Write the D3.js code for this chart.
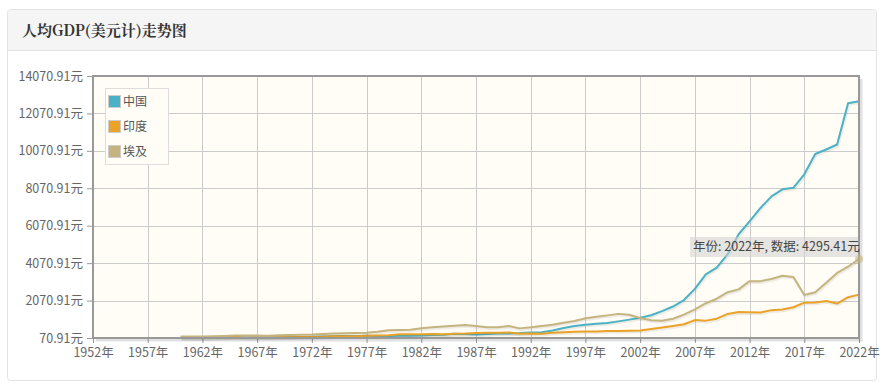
<!DOCTYPE html>
<html>
<head>
<meta charset="utf-8">
<script src="https://cdn.jsdelivr.net/npm/d3@7"></script>
<style>
  body { margin: 0; background: #fff; }
  svg { display: block; font-family: "Noto Sans CJK SC", "Noto Sans", sans-serif; }
</style>
</head>
<body>
<svg id="chart"></svg>
<script>
// data, per capita GDP (USD), 1960-2022
const years = d3.range(1960, 2023);
const seriesNames = ['中国', '印度', '埃及'];
const colors = ['#4bb2c5', '#eaa228', '#c5b47f'];

const china = [89, 76, 71, 74, 85, 98, 104, 97, 92, 100,
  113, 119, 132, 157, 160, 178, 165, 185, 156, 184,
  195, 197, 203, 225, 251, 294, 282, 252, 283, 311,
  318, 333, 366, 377, 473, 610, 709, 782, 829, 873,
  959, 1053, 1149, 1289, 1509, 1753, 2099, 2694, 3468, 3832,
  4550, 5614, 6301, 7020, 7636, 8016, 8094, 8817, 9905, 10144,
  10409, 12618, 12720];
const india = [82, 85, 90, 101, 116, 119, 90, 96, 99, 108,
  112, 119, 123, 144, 164, 158, 161, 186, 206, 224,
  265, 271, 274, 291, 277, 296, 311, 340, 354, 346,
  369, 303, 317, 301, 346, 374, 400, 416, 413, 442,
  443, 452, 470, 547, 628, 715, 807, 1028, 999, 1102,
  1358, 1458, 1444, 1438, 1560, 1590, 1714, 1958, 1974, 2050,
  1913, 2250, 2389];
const egypt = [152, 157, 152, 165, 184, 204, 205, 201, 196, 214,
  230, 241, 258, 290, 310, 330, 340, 350, 400, 480,
  500, 510, 590, 640, 680, 720, 760, 712, 640, 640,
  712, 585, 640, 712, 780, 880, 980, 1123, 1210, 1280,
  1360, 1310, 1140, 1020, 990, 1100, 1320, 1600, 1930, 2170,
  2520, 2670, 3110, 3110, 3220, 3400, 3330, 2370, 2520, 3020,
  3550, 3880, 4295.41];

const xTicks = d3.range(1952, 2023, 5);
const yTicks = d3.range(0, 8).map(i => 70.91 + i * 2000);

const W = 889, H = 388;
const plot = { left: 93, right: 859, top: 76, bottom: 338 };

const svg = d3.select('#chart').attr('width', W).attr('height', H);

// card + header
svg.append('rect')
   .attr('x', 7.5).attr('y', 9.5).attr('width', 869).attr('height', 371)
   .attr('rx', 3)
   .attr('fill', '#fff').attr('stroke', '#e3e3e3');
svg.append('path')
   .attr('d', 'M8,50.5 H876 V12.5 Q876,10 873,10 H11 Q8,10 8,12.5 Z')
   .attr('fill', '#f5f5f5');
svg.append('line')
   .attr('x1', 8).attr('x2', 876).attr('y1', 50.5).attr('y2', 50.5)
   .attr('stroke', '#e3e3e3');
svg.append('text')
   .attr('x', 22).attr('y', 36)
   .style('font-size', '15px').style('font-weight', 'bold')
   .style('font-family', '"Noto Serif CJK SC", "Noto Sans CJK SC", serif')
   .style('fill', '#333')
   .text('人均GDP(美元计)走势图');

const x = d3.scaleLinear().domain([1952, 2022]).range([plot.left, plot.right]);
const y = d3.scaleLinear().domain([70.91, 14070.91]).range([plot.bottom, plot.top]);

// plot background
svg.append('rect')
   .attr('x', plot.left).attr('y', plot.top)
   .attr('width', plot.right - plot.left).attr('height', plot.bottom - plot.top)
   .attr('fill', '#fffdf6');

// grid
svg.append('g')
   .selectAll('line.gx').data(xTicks).enter().append('line')
   .attr('x1', d => Math.round(x(d)) + 0.5).attr('x2', d => Math.round(x(d)) + 0.5)
   .attr('y1', plot.top).attr('y2', plot.bottom)
   .attr('stroke', '#cccccc');
svg.append('g')
   .selectAll('line.gy').data(yTicks).enter().append('line')
   .attr('x1', plot.left).attr('x2', plot.right)
   .attr('y1', d => Math.round(y(d)) + 0.5).attr('y2', d => Math.round(y(d)) + 0.5)
   .attr('stroke', '#cccccc');

// axes
const yAxis = svg.append('g')
   .attr('transform', `translate(${plot.left},0)`)
   .call(d3.axisLeft(y).tickValues(yTicks).tickSize(6).tickPadding(4)
       .tickFormat(d => d.toFixed(2) + '元'));
const xAxis = svg.append('g')
   .attr('transform', `translate(0,${plot.bottom})`)
   .call(d3.axisBottom(x).tickValues(xTicks).tickSize(5).tickPadding(5)
       .tickFormat(d => d + '年'));
[yAxis, xAxis].forEach(a => {
  a.select('.domain').remove();
  a.selectAll('line').attr('stroke', '#999');
  a.selectAll('text').style('font-size', '12.5px').style('fill', '#666')
   .style('font-family', '"Noto Sans CJK SC", sans-serif');
});

// series lines
const seriesData = [china, india, egypt];
const line = d3.line().x((d, i) => x(years[i])).y(d => y(d));
seriesData.forEach((vals, k) => {
  // jqplot-ish shadow
  svg.append('path')
     .datum(vals)
     .attr('fill', 'none')
     .attr('stroke', 'rgba(0,0,0,0.07)')
     .attr('stroke-width', 2.5)
     .attr('transform', 'translate(1,1.5)')
     .attr('d', line);
  svg.append('path')
     .datum(vals)
     .attr('fill', 'none')
     .attr('stroke', colors[k])
     .attr('stroke-width', 2)
     .attr('stroke-linejoin', 'round')
     .attr('d', line);
});

// plot border with shadow
svg.append('path')
   .attr('d', `M${plot.right + 2},${plot.top + 3} V${plot.bottom + 2} H${plot.left + 3}`)
   .attr('fill', 'none').attr('stroke', 'rgba(0,0,0,0.12)').attr('stroke-width', 3);
svg.append('rect')
   .attr('x', plot.left).attr('y', plot.top)
   .attr('width', plot.right - plot.left).attr('height', plot.bottom - plot.top)
   .attr('fill', 'none').attr('stroke', '#999').attr('stroke-width', 2);

// legend
const legend = svg.append('g').attr('transform', 'translate(105,88)');
legend.append('rect')
   .attr('x', 0.5).attr('y', 0.5).attr('width', 63).attr('height', 76)
   .attr('fill', '#fffdf6').attr('stroke', '#ddd');
seriesNames.forEach((name, k) => {
  const g = legend.append('g').attr('transform', `translate(3,${7 + k * 25})`);
  g.append('rect').attr('x', 0.5).attr('y', 0.5).attr('width', 12).attr('height', 12)
   .attr('fill', colors[k]).attr('stroke', '#ccc');
  g.append('text').attr('x', 15).attr('y', 11)
   .style('font-size', '12px').style('fill', '#555').text(name);
});

// highlight + tooltip on the last Egypt point
const last = egypt.length - 1;
svg.append('circle')
   .attr('cx', x(years[last])).attr('cy', y(egypt[last])).attr('r', 4)
   .attr('fill', colors[2]).attr('opacity', 0.6);
const tip = svg.append('g')
   .attr('transform', `translate(${x(years[last]) - 169},${y(egypt[last]) - 22})`);
tip.append('rect').attr('width', 168).attr('height', 20)
   .attr('fill', 'rgba(208,208,208,0.55)');
tip.append('text').attr('x', 3).attr('y', 14.5)
   .style('font-size', '12.5px').style('fill', '#444')
   .text(`年份: ${years[last]}年, 数据: ${egypt[last].toFixed(2)}元`);
</script>
</body>
</html>
